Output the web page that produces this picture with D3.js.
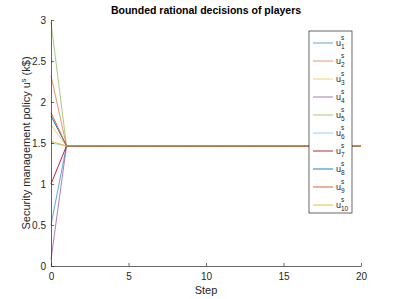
<!DOCTYPE html>
<html><head><meta charset="utf-8">
<script src="https://cdn.jsdelivr.net/npm/d3@7"></script>
<style>body{margin:0;background:#fff}svg{display:block}text{font-family:"Liberation Sans",Arial,sans-serif}</style>
</head><body><svg id="c" width="399" height="299"></svg>
<script>
const steps = d3.range(0, 21);
const startValues = [0.5, 2.32, 1.72, 0.08, 2.97, 1.5, 1.0, 1.83, 1.87, 1.52];
const convergedValue = 1.465;
const seriesNames = ["1","2","3","4","5","6","7","8","9","10"];
const colors = ["#0072BD","#D95319","#EDB120","#7E2F8E","#77AC30","#4DBEEE","#A2142F","#0072BD","#D95319","#EDB120"];
const xTicks = [0,5,10,15,20];
const yTicks = [0,0.5,1,1.5,2,2.5,3];

const svg = d3.select("#c");
const m = {l:51, r:38, t:20, b:33};
const W = 399, H = 299;
const x = d3.scaleLinear().domain([0,20]).range([m.l, W-m.r]);
const y = d3.scaleLinear().domain([0,3]).range([H-m.b, m.t]);

const series = startValues.map((s,i)=>({name:seriesNames[i], color:colors[i], op: i<6?0.7:1,
  values: steps.map(t => ({t, v: t===0 ? s : convergedValue}))}));

const line = d3.line().x(d=>x(d.t)).y(d=>y(d.v));
svg.append("g").selectAll("path").data(series).join("path")
  .attr("d", d=>line(d.values)).attr("fill","none")
  .attr("stroke", d=>d.color).attr("stroke-opacity", d=>d.op).attr("stroke-width",0.9);

const ax = svg.append("g").attr("transform",`translate(0,${H-m.b})`)
  .call(d3.axisBottom(x).tickValues(xTicks).tickSizeInner(-3).tickSizeOuter(0).tickPadding(7));
const ay = svg.append("g").attr("transform",`translate(${m.l},0)`)
  .call(d3.axisLeft(y).tickValues(yTicks).tickFormat(d3.format("")).tickSizeInner(-3).tickSizeOuter(0).tickPadding(5));
[ax,ay].forEach(g=>{g.selectAll("path,line").attr("stroke","#262626").attr("stroke-width",0.7);
  g.selectAll("text").attr("fill","#262626").style("font-size","10px").attr("font-family",'"Liberation Sans",Arial,sans-serif');});

svg.append("text").attr("x", (m.l + W - m.r)/2).attr("y", 14).attr("text-anchor","middle")
  .style("font-size","10.5px").style("font-weight","bold").attr("fill","#000").text("Bounded rational decisions of players");
svg.append("text").attr("x", (m.l + W - m.r)/2).attr("y", 294).attr("text-anchor","middle")
  .style("font-size","11px").attr("fill","#262626").text("Step");
const yl = svg.append("text").attr("transform",`translate(30,${(m.t+H-m.b)/2}) rotate(-90)`).attr("text-anchor","middle")
  .style("font-size","11px").attr("fill","#262626");
yl.append("tspan").text("Security management policy u");
yl.append("tspan").attr("dy",-4).style("font-size","7.5px").text("s");
yl.append("tspan").attr("dy",4).text(" (k$)");

// legend
const lg = svg.append("g");
const lx0 = 309, ly0 = 31, lw = 43, lh = 182;
lg.append("rect").attr("x",lx0).attr("y",ly0).attr("width",lw).attr("height",lh)
  .attr("fill","#fff").attr("stroke","#262626").attr("stroke-width",0.7);
series.forEach((s,i)=>{
  const yy = 43 + i*18;
  lg.append("line").attr("x1",313).attr("x2",333).attr("y1",yy).attr("y2",yy)
    .attr("stroke",s.color).attr("stroke-opacity",s.op).attr("stroke-width",0.9);
  const t = lg.append("text").attr("x",336).attr("y",yy+3).style("font-size","9px").attr("fill","#262626");
  t.append("tspan").text("u");
  t.append("tspan").attr("x",341).attr("dy",-6).style("font-size","6.5px").text("s");
  t.append("tspan").attr("x",341).attr("dy",9).style("font-size","6.5px").text(s.name);
});
</script></body></html>
